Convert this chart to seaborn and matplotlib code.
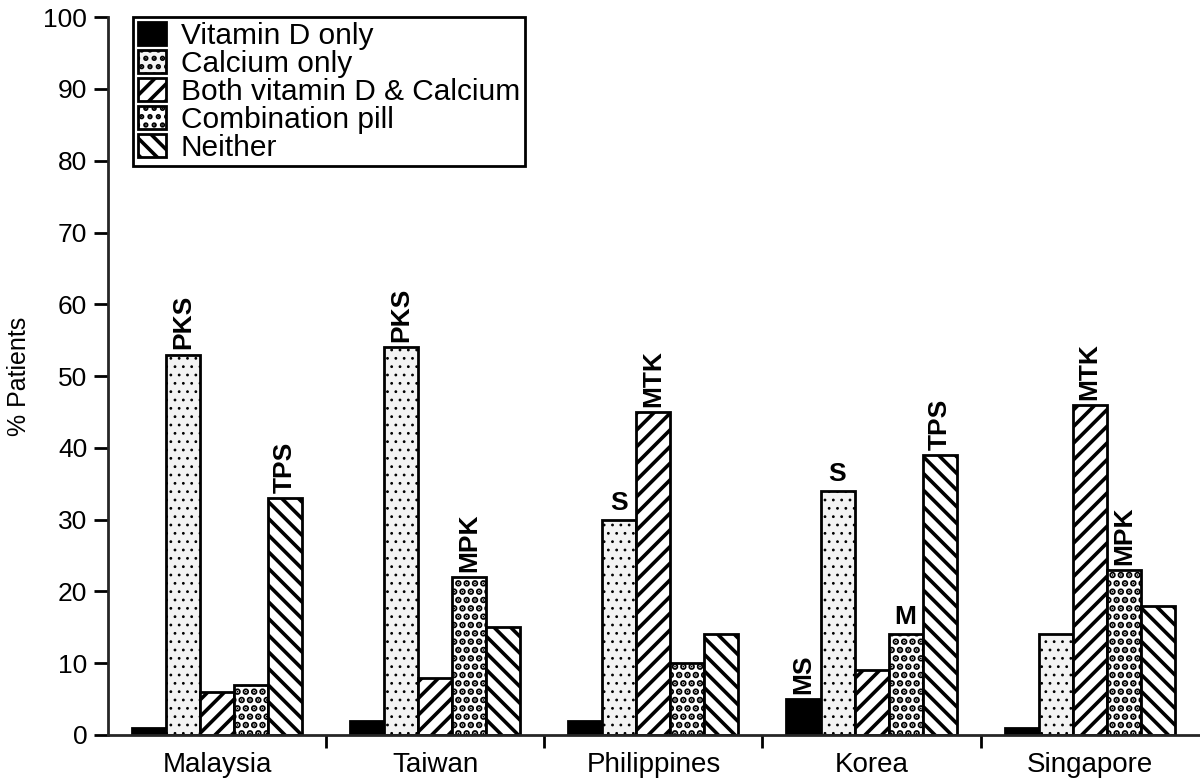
import pandas as pd
import numpy as np
import matplotlib
matplotlib.use("Agg")
import matplotlib.pyplot as plt
import seaborn as sns

# data
countries = ['Malaysia', 'Taiwan', 'Philippines', 'Korea', 'Singapore']
series = ['Vitamin D only', 'Calcium only', 'Both vitamin D & Calcium',
          'Combination pill', 'Neither']
vit_d = [1, 2, 2, 5, 1]
calcium = [53, 54, 30, 34, 14]
both = [6, 8, 45, 9, 46]
combo = [7, 22, 10, 14, 23]
neither = [33, 15, 14, 39, 18]

# significance letters above bars (country, series, text)
notes = [('Malaysia', 'Calcium only', 'PKS'),
         ('Malaysia', 'Neither', 'TPS'),
         ('Taiwan', 'Calcium only', 'PKS'),
         ('Taiwan', 'Combination pill', 'MPK'),
         ('Philippines', 'Calcium only', 'S'),
         ('Philippines', 'Both vitamin D & Calcium', 'MTK'),
         ('Korea', 'Vitamin D only', 'MS'),
         ('Korea', 'Calcium only', 'S'),
         ('Korea', 'Combination pill', 'M'),
         ('Korea', 'Neither', 'TPS'),
         ('Singapore', 'Both vitamin D & Calcium', 'MTK'),
         ('Singapore', 'Combination pill', 'MPK')]

rows = []
for s, vals in zip(series, [vit_d, calcium, both, combo, neither]):
    for c, v in zip(countries, vals):
        rows.append({'country': c, 'type': s, 'pct': v})
df = pd.DataFrame(rows)

sns.set_style("ticks")
plt.rcParams['font.family'] = ['Liberation Sans', 'DejaVu Sans']
plt.rcParams['hatch.color'] = 'black'
plt.rcParams['hatch.linewidth'] = 2.6
for k in ['text.color', 'axes.labelcolor', 'xtick.color', 'ytick.color']:
    plt.rcParams[k] = 'black'

fig = plt.figure(figsize=(12, 7.81), dpi=100)
ax = fig.add_axes([0.09, 0.059, 0.909, 0.919])

sns.barplot(data=df, x='country', y='pct', hue='type', order=countries,
            hue_order=series, width=0.78, ax=ax, edgecolor='black',
            linewidth=2, saturation=1, legend=False)

fills = ['black', '#f3f3f3', 'white', 'white', 'white']
hatches = [None, '..', '//', '..', '\\\\']
hatch_lw = [1, 0.8, 2.6, 3.4, 2.6]
for cont, fc, h, hl in zip(ax.containers, fills, hatches, hatch_lw):
    for bar in cont:
        bar.set_facecolor(fc)
        bar.set_edgecolor('black')
        if h:
            bar.set_hatch(h)
            if hasattr(bar, 'set_hatch_linewidth'):
                bar.set_hatch_linewidth(hl)

for c, s, txt in notes:
    bar = ax.containers[series.index(s)][countries.index(c)]
    x = bar.get_x() + bar.get_width() / 2
    y = bar.get_height() + 0.7
    rot = 0 if len(txt) == 1 else 90
    ax.text(x, y, txt, rotation=rot, ha='center', va='bottom',
            fontsize=19, fontweight='bold')

ax.set_ylim(0, 100)
ax.set_xlim(-0.5, 4.5)
ax.set_yticks(range(0, 101, 10))
ax.set_ylabel('% Patients', fontsize=18)
ax.yaxis.set_label_coords(-0.071, 0.5)
ax.set_xlabel('')
ax.tick_params(axis='y', labelsize=19, width=2, length=10, direction='out',
               pad=5)
ax.tick_params(axis='x', which='major', labelsize=20, length=0, pad=12)
ax.set_xticks([0.5, 1.5, 2.5, 3.5], minor=True)
ax.tick_params(axis='x', which='minor', width=2, length=9)
for sp in ['left', 'bottom']:
    ax.spines[sp].set_linewidth(2)
sns.despine(ax=ax)

handles = [cont[0] for cont in ax.containers]
leg = ax.legend(handles, series, loc='upper left', bbox_to_anchor=(0.023, 1.0),
                fontsize=21.5, frameon=True, fancybox=False, edgecolor='black',
                handlelength=0.95, handleheight=0.8, handletextpad=0.5,
                labelspacing=0.0, borderpad=0.15, borderaxespad=0)
leg.get_frame().set_linewidth(2)
leg.get_frame().set_alpha(1)

fig.savefig('out.png', dpi=100)
